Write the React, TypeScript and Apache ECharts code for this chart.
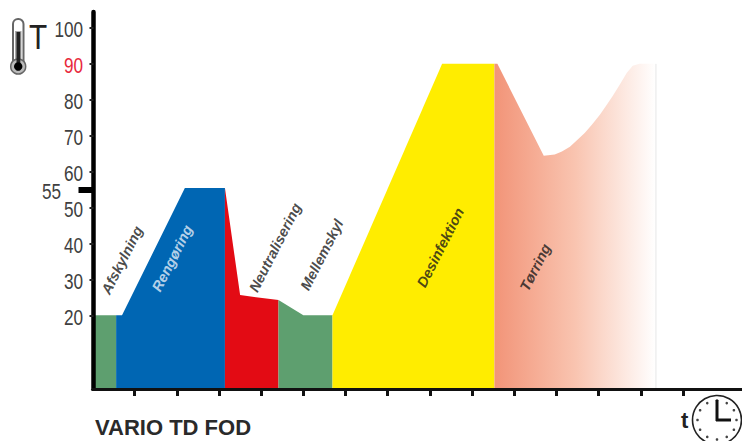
import React, { useEffect, useRef } from "react";
import * as echarts from "echarts";

const yTicks = [20, 30, 40, 50, 60, 70, 80, 90, 100];
const holdTemp = [55];
const xTicks = [1, 2, 3, 4, 5, 6, 7, 8, 9, 10, 11, 12, 13, 14];

const cooling = [[0, 20.2], [0.56, 20.2]];
const cleaning = [[0.56, 20.2], [0.7, 20.2], [2.19, 55.5], [3.14, 55.5]];
const neutralising = [[3.14, 55.5], [3.5, 25.8], [4.41, 24.4]];
const rinse = [[4.41, 24.4], [5, 20.2], [5.69, 20.2]];
const disinfection = [[5.69, 20.2], [8.29, 90], [9.53, 90]];
const drying = [
  [9.53, 90], [9.6, 90], [10.7, 64.5], [10.96, 64.8], [11.13, 65.7], [11.32, 67], [11.48, 68.7],
  [11.67, 70.8], [11.84, 73.1], [12.03, 75.9], [12.17, 78.2], [12.33, 81], [12.5, 84.2],
  [12.67, 87.5], [12.81, 89.5], [12.97, 90], [13.36, 90],
];

const labelNames = ["Afskylning", "Rengøring", "Neutralisering", "Mellemskyl", "Desinfektion", "Tørring"];
const labelX = [0.7, 1.89, 4.33, 5.44, 8.25, 10.5];
const labelY = [35.5, 36, 39, 37, 39, 33.5];

const sans = "'Liberation Sans', sans-serif";

function area(name: string, data: number[][], color: any) {
  return {
    name,
    type: "line",
    data,
    showSymbol: false,
    symbol: "none",
    silent: true,
    lineStyle: { width: 0 },
    areaStyle: { color, opacity: 1 },
    z: 2,
  };
}

export default function App() {
  const ref = useRef<HTMLDivElement>(null);
  useEffect(() => {
    document.body.style.margin = "0";
    const chart = echarts.init(ref.current!, undefined, { renderer: "svg" });
    const clockTicks: any[] = [];
    for (let i = 0; i < 12; i++) {
      const a = (i * Math.PI) / 6;
      clockTicks.push({
        type: "circle",
        shape: { cx: 717 + Math.sin(a) * 19.5, cy: 420 - Math.cos(a) * 19.5, r: 1.3 },
        style: { fill: "#444" },
      });
    }
    chart.setOption({
      animation: false,
      grid: { left: 92.5, right: 0, top: 12, bottom: 53, containLabel: false },
      xAxis: {
        type: "value",
        min: 0,
        max: 15.4,
        interval: 1,
        z: 10,
        offset: 1,
        splitLine: { show: false },
        axisLine: { show: true, onZero: false, lineStyle: { color: "#111", width: 3 } },
        axisTick: { show: true, customValues: xTicks, length: 7, lineStyle: { color: "#111", width: 3 } },
        axisLabel: { show: false },
      },
      yAxis: [
        {
          type: "value",
          min: 0,
          max: 104.4,
          z: 10,
          offset: -1,
          splitLine: { show: false },
          axisLine: { show: true, onZero: false, lineStyle: { color: "#000", width: 4.5 } },
          axisTick: { show: true, customValues: yTicks, length: 4, lineStyle: { color: "#222", width: 2 } },
          axisLabel: { show: false },
        },
        {
          type: "value",
          position: "left",
          min: 0,
          max: 104.4,
          z: 10,
          splitLine: { show: false },
          axisLine: { show: false },
          axisTick: { show: true, customValues: holdTemp, length: 14, lineStyle: { color: "#000", width: 6 } },
          axisLabel: { show: false },
        },
      ],
      series: [
        area("Afskylning", cooling, "#5E9F6F"),
        area("Rengøring", cleaning, "#0066B3"),
        area("Neutralisering", neutralising, "#E30B14"),
        area("Mellemskyl", rinse, "#5E9F6F"),
        area("Desinfektion", disinfection, "#FFED00"),
        area(
          "Tørring",
          drying,
          new echarts.graphic.LinearGradient(0, 0, 1, 0, [
            { offset: 0, color: "#F29478" },
            { offset: 0.5, color: "#F9C4B0" },
            { offset: 1, color: "#FFFFFF" },
          ]),
        ),
        {
          type: "line",
          data: [[13.36, 0], [13.36, 90]],
          symbol: "none",
          silent: true,
          lineStyle: { color: "#E6E6E6", width: 1 },
          z: 3,
        },
        {
          type: "scatter",
          symbolSize: 0,
          silent: true,
          z: 5,
          data: labelNames.map((n, i) => ({
            name: n,
            value: [labelX[i], labelY[i]],
            label: { color: n === "Rengøring" ? "#E6EEF8" : "#1a1a1a" },
          })),
          label: {
            show: true,
            position: "inside",
            formatter: "{b}",
            rotate: 63,
            align: "center",
            verticalAlign: "middle",
            fontFamily: sans,
            fontStyle: "italic",
            fontWeight: "bold",
            fontSize: 14.5,
          },
        },
      ],
    });
    const tickLabel = (v: number, right: number, color: string) => ({
      type: "text",
      x: right,
      y: (chart.convertToPixel({ yAxisIndex: 0 }, v) as number) + 1,
      scaleX: 0.78,
      style: {
        text: String(v),
        fontFamily: sans,
        fontSize: 22,
        fill: color,
        align: "right",
        verticalAlign: "middle",
      },
    });
    chart.setOption({
      graphic: [
        ...yTicks.map((v) => tickLabel(v, 83, v === 90 ? "#E8283C" : "#404040")),
        ...holdTemp.map((v) => tickLabel(v, 61, "#404040")),
        { type: "text", x: 29, y: 37, scaleX: 0.85, style: { text: "T", fontFamily: sans, fontSize: 35, fill: "#222", verticalAlign: "middle" } },
        { type: "text", x: 95, y: 427, style: { text: "VARIO TD FOD", fontFamily: sans, fontWeight: "bold", fontSize: 22, fill: "#2a2a2a", verticalAlign: "middle" } },
        { type: "text", x: 681, y: 420, style: { text: "t", fontFamily: sans, fontWeight: "bold", fontSize: 22, fill: "#222", verticalAlign: "middle" } },
        { type: "rect", shape: { x: 13, y: 19, width: 10.5, height: 50, r: 5 }, style: { fill: "#fff", stroke: "#666", lineWidth: 2 } },
        { type: "rect", shape: { x: 15, y: 31, width: 6.5, height: 32 }, style: { fill: "#aaa" } },
        { type: "circle", shape: { cx: 18.2, cy: 66.5, r: 7.5 }, style: { fill: "#bbb", stroke: "#666", lineWidth: 1.5 } },
        { type: "rect", shape: { x: 16.5, y: 32, width: 3.8, height: 31 }, style: { fill: "#222" } },
        { type: "circle", shape: { cx: 18.2, cy: 66.5, r: 4.2 }, style: { fill: "#000" } },
        { type: "circle", shape: { cx: 717, cy: 420, r: 24.5 }, style: { fill: "#fff", stroke: "#222", lineWidth: 1.6 } },
        ...clockTicks,
        { type: "line", shape: { x1: 717, y1: 421, x2: 717, y2: 400 }, style: { stroke: "#111", lineWidth: 3 } },
        { type: "line", shape: { x1: 716, y1: 420, x2: 731, y2: 420 }, style: { stroke: "#111", lineWidth: 3 } },
      ],
    });
    return () => chart.dispose();
  }, []);
  return <div ref={ref} style={{ width: 742, height: 441 }} />;
}
